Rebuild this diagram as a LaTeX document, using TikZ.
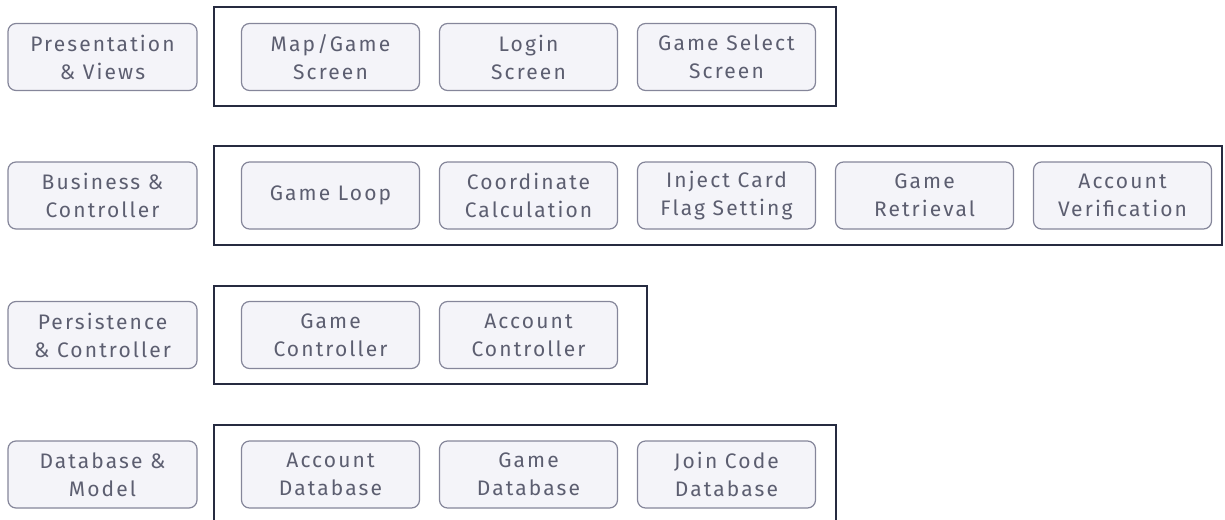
\documentclass[tikz,border=0pt]{standalone}
\usepackage{fontspec}
\setmainfont{Fira Sans}[LetterSpace=10]
\definecolor{boxfill}{HTML}{F4F4F9}
\definecolor{boxline}{HTML}{85869A}
\definecolor{boxtext}{HTML}{5C5E70}
\definecolor{framecol}{HTML}{262B40}
\tikzset{
    layer/.style={draw=boxline, fill=boxfill, line width=1.2pt, rounded corners=8pt,
        minimum width=189pt, minimum height=67pt, inner sep=0pt, align=center,
        text=boxtext, font=\fontsize{21}{28}\selectfont},
    part/.style={layer, minimum width=178pt},
    frame/.style={draw=framecol, line width=2.5pt}
}
\begin{document}
\begin{tikzpicture}[x=1pt, y=-1pt]
    \useasboundingbox (0,0) rectangle (1225,519);

    % Presentation & Views
    \node[layer] (pres) at (102.5, 57) {Presentation\\\& Views};
    \draw[frame] (214, 7) rectangle (836, 106);
    \foreach \name/\txt [count=\i] in {map/{Map/Game\\Screen}, login/{Login\\Screen}, select/{Game Select\\Screen}}
        \node[part] (\name) at (330.5 + 198*\i - 198, 57) {\txt};

    % Business & Controller
    \node[layer] (bus) at (102.5, 195.5) {Business \&\\Controller};
    \draw[frame] (214, 146) rectangle (1222, 245);
    \foreach \name/\txt [count=\i] in {loop/{Game Loop}, coord/{Coordinate\\Calculation}, inject/{Inject Card\\Flag Setting}, retrieve/{Game\\Retrieval}, verify/{Account\\Verification}}
        \node[part] (\name) at (330.5 + 198*\i - 198, 195.5) {\txt};

    % Persistence & Controller
    \node[layer] (pers) at (102.5, 335) {Persistence\\\& Controller};
    \draw[frame] (214, 286) rectangle (647, 384);
    \foreach \name/\txt [count=\i] in {gamectl/{Game\\Controller}, accctl/{Account\\Controller}}
        \node[part] (\name) at (330.5 + 198*\i - 198, 335) {\txt};

    % Database & Model
    \node[layer] (data) at (102.5, 474.5) {Database \&\\Model};
    \draw[frame] (214, 425) rectangle (836, 524);
    \foreach \name/\txt [count=\i] in {accdb/{Account\\Database}, gamedb/{Game\\Database}, joindb/{Join Code\\Database}}
        \node[part] (\name) at (330.5 + 198*\i - 198, 474.5) {\txt};
\end{tikzpicture}
\end{document}
